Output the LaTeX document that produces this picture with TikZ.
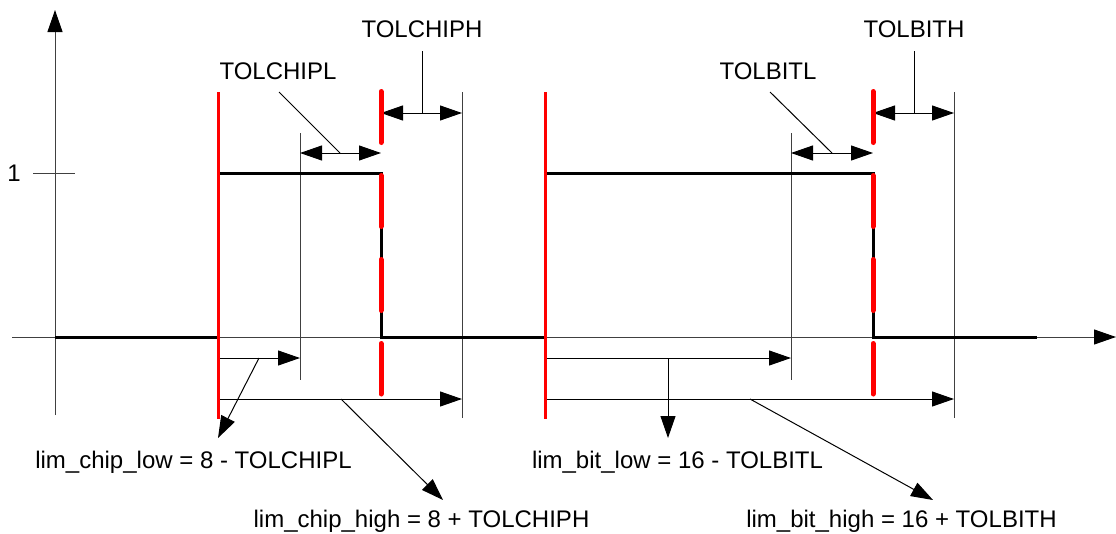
\documentclass[tikz,border=0pt]{standalone}
\usepackage{fontspec}
\setmainfont{Liberation Sans}
\usetikzlibrary{arrows.meta}
\begin{document}
\begin{tikzpicture}[x=1pt,y=-1pt,
 thinl/.style={line width=1pt,black!75},
 dim/.style={line width=1pt,black},
 arr/.style={-{Triangle[length=22pt,width=15pt,color=black]}},
 dbl/.style={{Triangle[length=22pt,width=15pt]}-{Triangle[length=22pt,width=15pt]}},
 sig/.style={line width=3pt,black},
 redsolid/.style={line width=3pt,red},
 reddash/.style={line width=5pt,red,line cap=round,dash pattern=on 51pt off 33pt},
 lbl/.style={font=\fontsize{24}{27}\selectfont,inner sep=0pt}]
\useasboundingbox (0,0) rectangle (1116,533);
% axes
\coordinate (xs) at (12,337); \coordinate (xe) at (1116,337);
\coordinate (ys) at (55,415); \coordinate (ye) at (55,10);
\draw[thinl,arr] (xs) -- (xe);
\draw[thinl,arr] (ys) -- (ye);
\coordinate (t1) at (33,173); \coordinate (t2) at (75,173);
\draw[thinl] (t1) -- (t2);
\node[lbl] (one) at (14,173) {1};
% thin verticals
\coordinate (a1) at (300,133); \coordinate (a2) at (300,380);
\coordinate (b1) at (462,92); \coordinate (b2) at (462,418);
\coordinate (c1) at (791,133); \coordinate (c2) at (791,380);
\coordinate (d1) at (954,92); \coordinate (d2) at (954,418);
\draw[thinl] (a1) -- (a2); \draw[thinl] (b1) -- (b2);
\draw[thinl] (c1) -- (c2); \draw[thinl] (d1) -- (d2);
% top dimensions
\coordinate (cl1) at (300,153); \coordinate (cl2) at (381,153);
\coordinate (ch1) at (381,113); \coordinate (ch2) at (462,113);
\coordinate (bl1) at (791,153); \coordinate (bl2) at (873,153);
\coordinate (bh1) at (873,113); \coordinate (bh2) at (954,113);
\draw[dim,dbl] (cl1) -- (cl2);
\draw[dim,dbl] (ch1) -- (ch2);
\draw[dim,dbl] (bl1) -- (bl2);
\draw[dim,dbl] (bh1) -- (bh2);
\node[lbl] (tcl) at (278,71) {TOLCHIPL};
\node[lbl] (tch) at (422,29) {TOLCHIPH};
\node[lbl] (tbl) at (768,71) {TOLBITL};
\node[lbl] (tbh) at (914,29) {TOLBITH};
\coordinate (lcl) at (279,92); \coordinate (lcl2) at (340,153);
\coordinate (lch) at (422,51); \coordinate (lch2) at (422,113);
\coordinate (lbl) at (770,92); \coordinate (lbl2) at (832,153);
\coordinate (lbh) at (914,51); \coordinate (lbh2) at (914,113);
\draw[dim] (lcl) -- (lcl2); \draw[dim] (lch) -- (lch2);
\draw[dim] (lbl) -- (lbl2); \draw[dim] (lbh) -- (lbh2);
% bottom dimensions
\coordinate (p1) at (218,358); \coordinate (p2) at (300,358);
\coordinate (q1) at (218,399); \coordinate (q2) at (462,399);
\coordinate (r1) at (545,358); \coordinate (r2) at (791,358);
\coordinate (s1) at (545,399); \coordinate (s2) at (954,399);
\draw[dim,arr] (p1) -- (p2);
\draw[dim,arr] (q1) -- (q2);
\draw[dim,arr] (r1) -- (r2);
\draw[dim,arr] (s1) -- (s2);
\node[lbl] (ncl) at (193.5,462) {lim\_chip\_low = 8 - TOLCHIPL};
\node[lbl] (nch) at (421.5,521) {lim\_chip\_high = 8 + TOLCHIPH};
\node[lbl] (nbl) at (677.5,462) {lim\_bit\_low = 16 - TOLBITL};
\node[lbl] (nbh) at (901.5,521) {lim\_bit\_high = 16 + TOLBITH};
\coordinate (m1) at (259,358); \coordinate (m1e) at (218,438);
\coordinate (m2) at (341,399); \coordinate (m2e) at (443,500);
\coordinate (m3) at (668,358); \coordinate (m3e) at (668,438);
\coordinate (m4) at (750,399); \coordinate (m4e) at (933,500);
\draw[dim,arr] (m1) -- (m1e);
\draw[dim,arr] (m2) -- (m2e);
\draw[dim,arr] (m3) -- (m3e);
\draw[dim,arr] (m4) -- (m4e);
% signal
\draw[sig] (55,337) -- (218,337) -- (218,173) -- (381,173) -- (381,337) -- (545,337)
  -- (545,173) -- (873,173) -- (873,337) -- (1037,337);
% red edges
\draw[redsolid] (218,92) -- (218,419);
\draw[redsolid] (545,92) -- (545,419);
\draw[reddash] (381,91.5) -- (381,394);
\draw[reddash] (873,91.5) -- (873,394);
\end{tikzpicture}
\end{document}
